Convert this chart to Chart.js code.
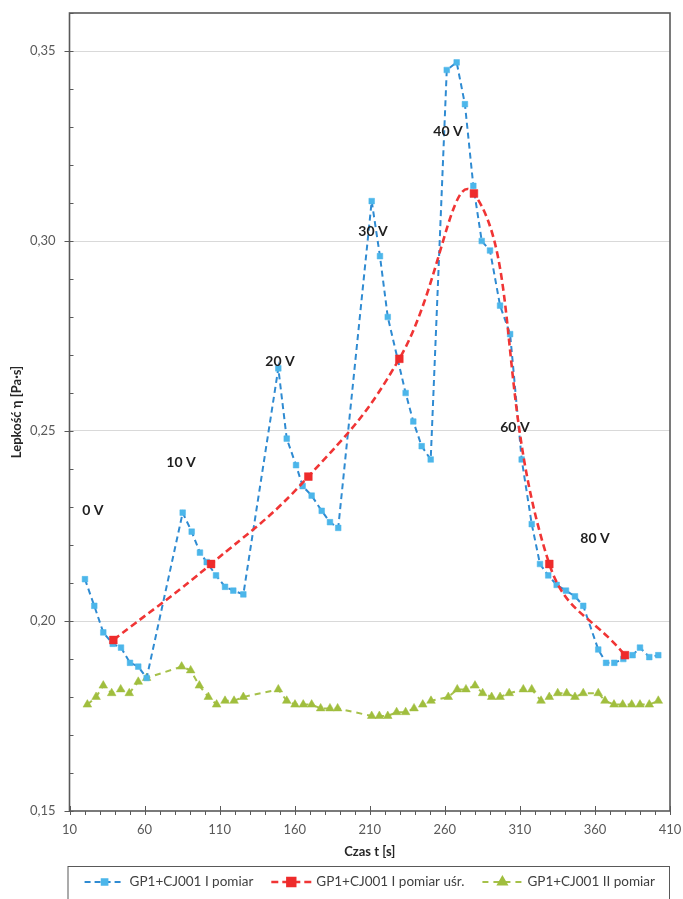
<!DOCTYPE html>
<html lang="pl">
<head>
<meta charset="utf-8">
<title>Lepkość – GP1+CJ001</title>
<script src="https://cdn.jsdelivr.net/npm/chart.js@4.4.1/dist/chart.umd.min.js"></script>
<style>
  html, body { margin: 0; padding: 0; background: #fff; }
  #wrap { width: 683px; height: 899px; position: relative; }
</style>
</head>
<body>
<div id="wrap"><canvas id="chart"></canvas></div>
<script>
// Dane

// GP1+CJ001 I pomiar
const timeI = [20.3, 26.5, 32.5, 38.8, 44.3, 50.3, 55.8, 61.4,
  85.4, 91.4, 96.9, 101.4, 107.6, 113.6, 119.1, 125.8,
  149.1, 154.7, 160.9, 165.3, 171.3, 178.0, 183.5, 189.0,
  211.3, 216.8, 222.0, 233.9, 239.0, 244.6, 250.6,
  261.3, 267.9, 273.4, 279.0, 284.6, 290.1, 296.8, 303.5,
  311.2, 317.9, 323.4, 328.9, 334.5, 340.7, 346.7, 352.2,
  362.2, 367.4, 372.9, 378.9, 385.1, 390.0, 396.2, 402.2];
const viscI = [0.211, 0.204, 0.197, 0.194, 0.193, 0.189, 0.188, 0.185,
  0.2285, 0.2235, 0.218, 0.2155, 0.212, 0.209, 0.208, 0.207,
  0.2665, 0.248, 0.241, 0.2355, 0.233, 0.229, 0.226, 0.2245,
  0.3105, 0.296, 0.280, 0.260, 0.2525, 0.246, 0.2425,
  0.345, 0.347, 0.336, 0.3145, 0.300, 0.2975, 0.283, 0.2755,
  0.2425, 0.2255, 0.215, 0.212, 0.2095, 0.208, 0.2065, 0.204,
  0.1925, 0.189, 0.189, 0.190, 0.191, 0.193, 0.1905, 0.191];

// GP1+CJ001 I pomiar uśr.
const timeAvg = [39.2, 104.3, 169.1, 229.7, 279.4, 329.6, 380.0];
const viscAvg = [0.195, 0.215, 0.238, 0.269, 0.3125, 0.215, 0.191];

// GP1+CJ001 II pomiar
const timeII = [21.9, 27.7, 32.5, 38.1, 44.1, 49.8, 55.8, 61.4,
  84.7, 90.7, 96.5, 102.5, 108.0, 113.6, 119.6, 125.8,
  149.1, 154.7, 160.2, 165.7, 171.3, 177.3, 183.5, 188.6,
  211.3, 216.4, 222.0, 227.9, 233.9, 239.5, 245.3, 250.8,
  262.3, 268.3, 274.1, 280.1, 285.2, 291.2, 296.8, 302.9,
  312.3, 317.9, 324.1, 329.6, 335.2, 341.2, 346.7, 352.2,
  362.2, 366.7, 372.7, 378.5, 384.5, 390.0, 396.2, 402.2];
const viscII = [0.178, 0.180, 0.183, 0.181, 0.182, 0.181, 0.184, 0.185,
  0.188, 0.187, 0.183, 0.180, 0.178, 0.179, 0.179, 0.180,
  0.182, 0.179, 0.178, 0.178, 0.178, 0.177, 0.177, 0.177,
  0.175, 0.175, 0.175, 0.176, 0.176, 0.177, 0.178, 0.179,
  0.180, 0.182, 0.182, 0.183, 0.181, 0.180, 0.180, 0.181,
  0.182, 0.182, 0.179, 0.180, 0.181, 0.181, 0.180, 0.181,
  0.181, 0.179, 0.178, 0.178, 0.178, 0.178, 0.178, 0.179];

// Opisy napięć (pozycja w jednostkach osi)
const voltLabels = ['0 V', '10 V', '20 V', '30 V', '40 V', '60 V', '80 V'];
const voltTime = [25.6, 84.3, 150.2, 212.2, 262.1, 306.7, 360.0];
const voltVisc = [0.2292, 0.2416, 0.2682, 0.3024, 0.3287, 0.2508, 0.2218];

const seriesNames = ['GP1+CJ001 I pomiar', 'GP1+CJ001 I pomiar uśr.', 'GP1+CJ001 II pomiar'];

// Osie
const xMin = 10, xMax = 410, xStep = 10, xLabelEvery = 50;
const yMin = 0.15, yMax = 0.36, yStep = 0.01, yLabelEvery = 0.05;

const FONT = 'Lato, "Open Sans", sans-serif';
const AXIS_COLOR = '#595959';

function toPoints(xs, ys) {
  return xs.map((x, i) => ({ x: x, y: ys[i] }));
}

function isMajorY(v) {
  return Math.round(v * 100) % Math.round(yLabelEvery * 100) === 0;
}
function isMajorX(v) {
  return Math.round(v - xMin) % xLabelEvery === 0;
}

// Znaczniki na osiach + ramka obszaru wykresu
const axisMarks = {
  id: 'axisMarks',
  afterDraw(chart) {
    const { ctx, chartArea: a, scales: { x, y } } = chart;
    ctx.save();
    ctx.strokeStyle = AXIS_COLOR;
    ctx.lineWidth = 1;
    ctx.beginPath();
    y.ticks.forEach(t => {
      const py = Math.round(y.getPixelForValue(t.value)) + 0.5;
      ctx.moveTo(a.left - (isMajorY(t.value) ? 5 : 0), py);
      ctx.lineTo(a.left + 4, py);
    });
    x.ticks.forEach(t => {
      const px = Math.round(x.getPixelForValue(t.value)) + 0.5;
      ctx.moveTo(px, a.bottom + 4);
      ctx.lineTo(px, a.bottom - (isMajorX(t.value) ? 5 : 0));
    });
    ctx.stroke();
    ctx.lineWidth = 1.6;
    ctx.strokeRect(a.left, a.top, a.right - a.left, a.bottom - a.top);
    ctx.restore();
  }
};

// Opisy napięć
const voltText = {
  id: 'voltText',
  afterDatasetsDraw(chart) {
    const { ctx, scales: { x, y } } = chart;
    ctx.save();
    ctx.font = 'bold 14px ' + FONT;
    ctx.fillStyle = '#1f1f1f';
    ctx.textAlign = 'center';
    ctx.textBaseline = 'middle';
    voltLabels.forEach((txt, i) => {
      ctx.fillText(txt, x.getPixelForValue(voltTime[i]), y.getPixelForValue(voltVisc[i]));
    });
    ctx.restore();
  }
};

// Legenda w ramce, jak w Excelu
const boxLegend = {
  id: 'boxLegend',
  afterDraw(chart) {
    const { ctx, chartArea: a } = chart;
    const top = a.bottom + 55;
    const cy = top + 16;
    ctx.save();
    ctx.strokeStyle = AXIS_COLOR;
    ctx.lineWidth = 1;
    ctx.strokeRect(a.left - 1.5, top + 0.5, a.right - a.left + 1, 60);
    ctx.font = '13.5px ' + FONT;
    ctx.textBaseline = 'middle';
    const sampleW = 40, gapIn = 5, gapOut = 18;
    const widths = seriesNames.map(n => ctx.measureText(n).width);
    const total = widths.reduce((s, w) => s + w + sampleW + gapIn, 0) + gapOut * (seriesNames.length - 1);
    let px = (a.left + a.right) / 2 - total / 2;
    chart.data.datasets.forEach((ds, i) => {
      ctx.save();
      ctx.strokeStyle = ds.borderColor;
      ctx.lineWidth = ds.borderWidth;
      ctx.setLineDash(ds.borderDash);
      ctx.beginPath();
      ctx.moveTo(px, cy);
      ctx.lineTo(px + sampleW, cy);
      ctx.stroke();
      ctx.setLineDash([]);
      ctx.fillStyle = ds.pointBackgroundColor;
      ctx.strokeStyle = ds.pointBorderColor;
      Chart.helpers.drawPoint(ctx, {
        pointStyle: ds.pointStyle, radius: ds.pointRadius, rotation: 0, borderWidth: 0.5
      }, px + sampleW / 2, cy);
      ctx.restore();
      ctx.fillStyle = '#404040';
      ctx.fillText(ds.label, px + sampleW + gapIn, cy);
      px += sampleW + gapIn + widths[i] + gapOut;
    });
    ctx.restore();
  }
};

const ctx = document.getElementById('chart').getContext('2d');
new Chart(ctx, {
  type: 'line',
  data: {
    datasets: [
      {
        label: seriesNames[0],
        data: toPoints(timeI, viscI),
        borderColor: '#2f8bd2',
        borderWidth: 2,
        borderDash: [6, 4],
        pointStyle: 'rect',
        pointRadius: 4,
        pointBackgroundColor: '#4cb6ea',
        pointBorderColor: '#4cb6ea',
        pointBorderWidth: 0.5,
        tension: 0,
        order: 1
      },
      {
        label: seriesNames[1],
        data: toPoints(timeAvg, viscAvg),
        borderColor: '#f03535',
        borderWidth: 2.6,
        borderDash: [7, 4],
        pointStyle: 'rect',
        pointRadius: 5.5,
        pointBackgroundColor: '#ee2b2b',
        pointBorderColor: '#ee2b2b',
        pointBorderWidth: 0.5,
        tension: 0.45,
        order: 0
      },
      {
        label: seriesNames[2],
        data: toPoints(timeII, viscII),
        borderColor: '#a6c14a',
        borderWidth: 2,
        borderDash: [6, 5],
        pointStyle: 'triangle',
        pointRadius: 5,
        pointBackgroundColor: '#a0be3e',
        pointBorderColor: '#a0be3e',
        pointBorderWidth: 0.5,
        tension: 0,
        order: 2
      }
    ]
  },
  options: {
    responsive: true,
    maintainAspectRatio: false,
    animation: false,
    layout: { padding: { top: 13, right: 13, left: 0, bottom: 39 } },
    plugins: {
      legend: { display: false },
      tooltip: { enabled: false }
    },
    scales: {
      x: {
        type: 'linear',
        min: xMin,
        max: xMax,
        border: { display: false },
        grid: { display: false, drawTicks: false },
        ticks: {
          stepSize: xStep,
          autoSkip: false,
          maxRotation: 0,
          padding: 11,
          color: AXIS_COLOR,
          font: { family: FONT, size: 13 },
          callback: v => (isMajorX(v) ? String(v) : '')
        },
        title: {
          display: true,
          text: 'Czas t [s]',
          color: '#262626',
          font: { family: FONT, size: 13, weight: 'bold' },
          padding: { top: 0, bottom: 0 }
        },
        afterFit(scale) {
          scale.height = 49;
          scale.paddingLeft = 0;
          scale.paddingRight = 0;
        }
      },
      y: {
        min: yMin,
        max: yMax,
        border: { display: false },
        grid: {
          drawTicks: false,
          lineWidth: 1,
          color: c => (isMajorY(c.tick.value) && c.tick.value > yMin + 0.001 ? '#d9d9d9' : 'rgba(0,0,0,0)')
        },
        ticks: {
          stepSize: yStep,
          autoSkip: false,
          padding: 14,
          color: AXIS_COLOR,
          font: { family: FONT, size: 13 },
          callback: v => (isMajorY(v) ? v.toFixed(2).replace('.', ',') : '')
        },
        title: {
          display: true,
          text: 'Lepkość η [Pa·s]',
          color: '#262626',
          font: { family: FONT, size: 13, weight: 'bold' },
          padding: { top: 9, bottom: 0 }
        },
        afterFit(scale) {
          scale.width = 69.5;
          scale.paddingTop = 0;
          scale.paddingBottom = 0;
        }
      }
    }
  },
  plugins: [voltText, axisMarks, boxLegend]
});
</script>
</body>
</html>
